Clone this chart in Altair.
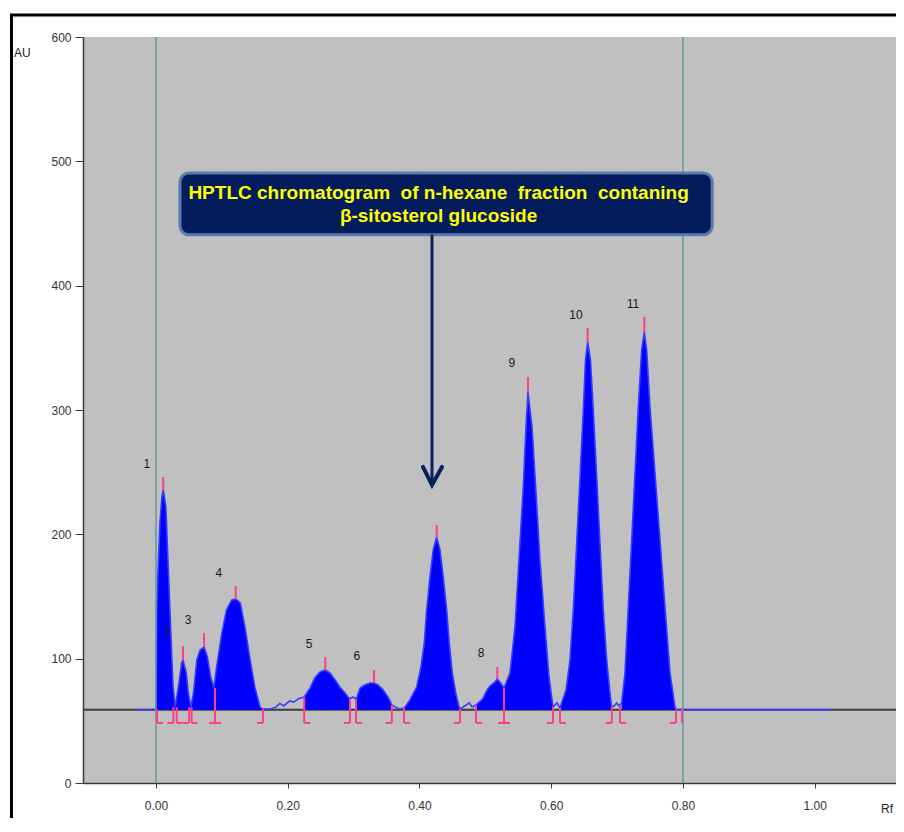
import altair as alt
import pandas as pd

# ---------------- data ----------------
signal_rf = [-0.029, 0.000,
             0.001, 0.003, 0.006, 0.009, 0.011, 0.015, 0.018, 0.021, 0.024, 0.026, 0.029,
             0.034, 0.039, 0.041, 0.046, 0.049, 0.053,
             0.057, 0.062, 0.067, 0.073, 0.078, 0.083, 0.088,
             0.092, 0.100, 0.107, 0.115, 0.121, 0.128, 0.135, 0.143, 0.150, 0.158, 0.162,
             0.173, 0.182, 0.188, 0.194, 0.203, 0.209, 0.217,
             0.225, 0.234, 0.241, 0.249, 0.257, 0.264, 0.272, 0.279, 0.287, 0.294,
             0.299,
             0.304, 0.310, 0.317, 0.325, 0.331, 0.337, 0.345, 0.353, 0.358,
             0.363, 0.370,
             0.377, 0.3856, 0.3957, 0.4023, 0.4073, 0.4109, 0.4159, 0.4209, 0.4261,
             0.4311, 0.4361, 0.4413, 0.4452, 0.4498, 0.4550, 0.4600,
             0.4625, 0.466, 0.4711, 0.4752, 0.480,
             0.4858, 0.4959, 0.5035, 0.5086, 0.5146, 0.5181, 0.5233, 0.5283,
             0.5374, 0.545, 0.551, 0.5571, 0.5617, 0.5647, 0.5708, 0.5769, 0.5829, 0.5905, 0.5966, 0.6027,
             0.6057, 0.6087, 0.6133,
             0.6224, 0.6285, 0.6335, 0.6387, 0.6437, 0.6487, 0.6520, 0.6553,
             0.6596, 0.6638, 0.6690, 0.6740, 0.6790, 0.6842, 0.6892, 0.6917,
             0.6953, 0.6994, 0.7029,
             0.7069, 0.712, 0.717, 0.7222, 0.7272, 0.7322, 0.7373, 0.7413,
             0.7449, 0.7499, 0.7575, 0.7651, 0.7727, 0.7803, 0.7879, 0.7894,
             1.023]
signal_au = [59, 59,
             136.7, 168.9, 209.1, 230.0, 235.7, 222.0, 181.8, 141.6, 101.3, 77.2, 61.1,
             77.2, 96.5, 98.9, 88.5, 72.4, 61.1,
             72.4, 98.9, 107.0, 109.4, 101.3, 85.3, 76.4,
             93.3, 120.6, 139.1, 147.2, 148.0, 144.8, 125.5, 98.9, 77.2, 61.1, 59.5,
             59.5, 61.0, 64.0, 62.0, 66.0, 65.0, 68.0,
             69.2, 76.4, 84.5, 89.3, 90.9, 88.5, 82.8, 77.2, 72.4, 67.6,
             69.2,
             67.6, 76.4, 78.8, 80.4, 80.4, 78.8, 74.8, 68.4, 62.7,
             61.1, 59.5,
             60.3, 66.8, 77.2, 93.3, 112.6, 139.1, 165.7, 187.4, 197.9,
             187.4, 165.7, 139.1, 112.6, 88.5, 72.4, 61.1,
             59.5, 61.1, 62.7, 64.4, 61.1,
             62.7, 67.6, 75.6, 78.8, 81.2, 83.6, 80.4, 76.4,
             88.5, 125.5, 179.4, 233.2, 286.3, 314.5, 286.3, 233.2, 179.4, 125.5, 85.3, 61.1,
             62.7, 64.4, 60.3,
             74.8, 98.9, 139.1, 193.0, 246.1, 300.0, 340.2, 354.7,
             340.2, 300.0, 246.1, 193.0, 139.1, 98.9, 72.4, 61.1,
             61.9, 64.4, 61.9,
             64.4, 88.5, 141.6, 195.4, 249.3, 302.4, 348.3, 362.7,
             348.3, 302.4, 249.3, 195.4, 141.6, 88.5, 61.1, 59.0,
             59.0]

peak_start = [0.000, 0.029, 0.053, 0.088, 0.225, 0.304, 0.377, 0.4858, 0.5283, 0.6133, 0.7069]
peak_end = [0.029, 0.053, 0.088, 0.162, 0.294, 0.358, 0.460, 0.5283, 0.6027, 0.6917, 0.7894]

apex_rf = [0.011, 0.041, 0.073, 0.121, 0.257, 0.331, 0.4261, 0.5181, 0.5647, 0.6553, 0.7413]
apex_au = [235.7, 98.9, 109.4, 148.0, 90.9, 80.4, 197.9, 83.6, 314.5, 354.7, 362.7]
apex_mark_top = [246.0, 110.0, 120.6, 158.4, 101.3, 90.9, 207.5, 93.3, 326.5, 366.0, 374.8]

label_text = ["1", "2", "3", "4", "5", "6", "8", "9", "10", "11"]
label_rf = [-0.0137, 0.0167, 0.0486, 0.0956, 0.2323, 0.3051, 0.4934, 0.5404, 0.6376, 0.7241]
label_au = [256.6, 121.4, 131.1, 168.9, 111.8, 102.1, 104.6, 337.8, 376.4, 385.3]

bound_rf = [0.0015, 0.0265, 0.0315, 0.0503, 0.0541, 0.0896, 0.1625, 0.225, 0.2945, 0.3036,
            0.358, 0.3765, 0.4615, 0.4858, 0.5283, 0.6027, 0.6133, 0.692, 0.7044, 0.7894, 0.7985]
bound_kind = ["L", "R", "L", "R", "L", "T", "R", "L", "R", "L",
              "R", "L", "R", "L", "T", "R", "L", "R", "L", "R", "I"]
bound_top = [59, 61, 61, 61, 61, 76.4, 59.5, 69.2, 67.6, 67.6,
             62.7, 60.3, 59.5, 62.7, 76.4, 61.1, 60.3, 61.1, 62.0, 59, 60]

baseline_au = 59
bracket_bottom_au = 48.3
ref_lines_rf = [0.0, 0.8]
x_ticks = [0.0, 0.2, 0.4, 0.6, 0.8, 1.0]
y_ticks = [0, 100, 200, 300, 400, 500, 600]

NB = "\u00a0"
note_lines = ["HPTLC chromatogram" + NB + " of n-hexane" + NB + " fraction" + NB + " contaning",
              "β-sitosterol glucoside"]
note_line_au = [469.7, 451.2]
note_rf = 0.429
box_rf = [0.0364, 0.8444]
box_au = [490.7, 440.9]
arrow_rf = 0.419
arrow_au = [441.0, 241.0]
arrow_head_rf = [0.4053, 0.4190, 0.4342]
arrow_head_au = [254.2, 239.7, 254.2]

# ---------------- tables ----------------
sig = pd.DataFrame({"rf": signal_rf, "au": signal_au})
rows = []
for i, (s, e) in enumerate(zip(peak_start, peak_end)):
    for r, a in zip(signal_rf, signal_au):
        if s - 1e-9 <= r <= e + 1e-9:
            rows.append({"peak": f"p{i + 1}", "rf": r, "au": a, "base": baseline_au})
peaks = pd.DataFrame(rows)
apex = pd.DataFrame({"rf": apex_rf, "au": apex_au, "top": apex_mark_top})
labels = pd.DataFrame({"t": label_text, "rf": label_rf, "au": label_au})
bounds = pd.DataFrame({"rf": bound_rf, "kind": bound_kind, "top": bound_top,
                       "bot": [bracket_bottom_au] * len(bound_rf)})
refs = pd.DataFrame({"rf": ref_lines_rf})
base_df = pd.DataFrame({"au": [baseline_au]})
notes = pd.DataFrame({"t": note_lines, "au": note_line_au, "rf": [note_rf] * 2})
box = pd.DataFrame({"x1": [box_rf[0]], "x2": [box_rf[1]], "y1": [box_au[0]], "y2": [box_au[1]]})
shaft = pd.DataFrame({"rf": [arrow_rf], "y1": [arrow_au[0]], "y2": [arrow_au[1]]})
head = pd.DataFrame({"rf": arrow_head_rf, "au": arrow_head_au, "o": [0, 1, 2]})
one = pd.DataFrame({"a": [0]})

# ---------------- scales / axes ----------------
PLOT_W = 813
xs = alt.Scale(domain=[-0.1108, 1.1234], nice=False, zero=False)
ys = alt.Scale(domain=[0, 600], nice=False, zero=False)
xaxis = alt.Axis(values=x_ticks, format=".2f", title=None, grid=False, tickSize=5,
                 labelPadding=12, domainColor="#3a3a3a", tickColor="#3a3a3a", domainWidth=1.5)
yaxis = alt.Axis(values=y_ticks, format="d", title=None, grid=False, tickSize=8,
                 labelPadding=4, domainColor="#3a3a3a", tickColor="#3a3a3a", domainWidth=1.5)


def X(f):
    return alt.X(f, type="quantitative", scale=xs, axis=xaxis)


def Y(f):
    return alt.Y(f, type="quantitative", scale=ys, axis=yaxis)


PINK = "#ff3d8b"
TEAL = "#5f9b9b"

baseline = alt.Chart(base_df).mark_rule(color="#3c3c3c", strokeWidth=2).encode(y=Y("au"))

areas = alt.Chart(peaks).mark_area(fill="#0000ff", fillOpacity=1, interpolate="linear").encode(
    x=X("rf"), y=Y("au"), y2=alt.Y2("base"), detail=alt.Detail("peak", type="nominal"))

trace = alt.Chart(sig).mark_line(color="#3a3aff", strokeWidth=1.6).encode(
    x=X("rf"), y=Y("au"))

vlines = alt.Chart(refs).mark_rule(color=TEAL, strokeWidth=1.5).encode(x=X("rf"))

apex_marks = alt.Chart(apex).mark_rule(color=PINK, strokeWidth=2).encode(
    x=X("rf"), y=Y("au"), y2="top")

b_vert = alt.Chart(bounds).mark_rule(color=PINK, strokeWidth=2).encode(
    x=X("rf"), y=Y("top"), y2="bot")
b_right = alt.Chart(bounds).transform_filter(
    alt.FieldOneOfPredicate(field="kind", oneOf=["L", "T"])
).mark_rule(color=PINK, strokeWidth=2, x2Offset=6).encode(x=X("rf"), x2="rf", y=Y("bot"))
b_left = alt.Chart(bounds).transform_filter(
    alt.FieldOneOfPredicate(field="kind", oneOf=["R", "T"])
).mark_rule(color=PINK, strokeWidth=2, x2Offset=-6).encode(x=X("rf"), x2="rf", y=Y("bot"))

peak_labels = alt.Chart(labels).mark_text(
    font="Liberation Sans", fontSize=12, color="#1a1a1a", align="center", baseline="middle"
).encode(x=X("rf"), y=Y("au"), text="t")

note_box = alt.Chart(box).mark_rect(
    fill="#041c5c", stroke="#5a7bb0", strokeWidth=3, cornerRadius=9
).encode(x=X("x1"), x2="x2", y=Y("y1"), y2="y2")

note_text = alt.Chart(notes).mark_text(
    font="Liberation Sans", fontSize=19, fontWeight="bold", color="#ffff00",
    align="center", baseline="alphabetic"
).encode(x=X("rf"), y=Y("au"), text="t")

arrow_shaft = alt.Chart(shaft).mark_rule(color="#0a1f5c", strokeWidth=3).encode(
    x=X("rf"), y=Y("y1"), y2="y2")
arrow_head = alt.Chart(head).mark_line(
    color="#0a1f5c", strokeWidth=4, strokeCap="round", strokeJoin="miter"
).encode(x=X("rf"), y=Y("au"), order="o:Q")

frame_left = alt.Chart(one).mark_rule(color="#000000", strokeWidth=3).encode(
    x=alt.value(-71.5), y=alt.value(-22), y2=alt.value(790))
frame_top = alt.Chart(one).mark_rule(color="#000000", strokeWidth=3).encode(
    x=alt.value(-73), x2=alt.value(PLOT_W + 10), y=alt.value(-22))

au_title = alt.Chart(one).mark_text(
    text="AU", font="Liberation Sans", fontSize=12, color="#1a1a1a", align="left", baseline="middle"
).encode(x=alt.value(-69), y=alt.value(16))
rf_title = alt.Chart(one).mark_text(
    text="Rf", font="Liberation Sans", fontSize=12, color="#1a1a1a", align="right", baseline="middle"
).encode(x=alt.value(810), y=alt.value(772))

chart = alt.layer(
    baseline, areas, trace, vlines, apex_marks, b_vert, b_right, b_left,
    peak_labels, note_box, note_text, arrow_shaft, arrow_head,
    frame_left, frame_top, au_title, rf_title
).properties(
    width=PLOT_W, height=746,
    autosize=alt.AutoSizeParams(type="none"),
    padding={"left": 75, "top": 29, "right": 0, "bottom": 35},
    background="#ffffff"
).configure_view(
    fill="#c0c0c0", stroke=None
).configure_axis(
    labelFont="Liberation Sans", labelFontSize=12, labelColor="#333333"
)

chart.save("out.html", embed_options={"renderer": "svg", "actions": False})
